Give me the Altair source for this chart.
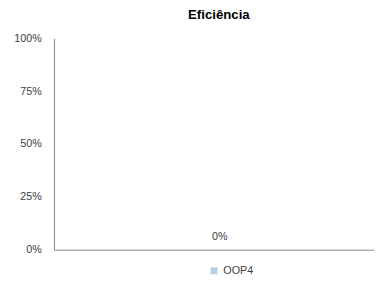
import altair as alt
import pandas as pd

categories = ["Eficiência"]
series = ["OOP4"]
values = [0.0]
y_ticks = [0, 0.25, 0.5, 0.75, 1.0]

df = pd.DataFrame({"cat": categories, "serie": series, "valor": values})

FONT = "Liberation Sans"

base = alt.Chart(df).encode(
    x=alt.X("cat:N", title=None,
            axis=alt.Axis(labels=False, ticks=False, domainColor="#868686", domainWidth=1)),
)

bars = base.mark_bar(size=60).encode(
    y=alt.Y("valor:Q", title=None,
            scale=alt.Scale(domain=[0, 1]),
            axis=alt.Axis(values=y_ticks, format=".0%", ticks=False, grid=False,
                          domainColor="#868686", labelPadding=13,
                          labelFontSize=11, labelColor="#404040", labelFont=FONT)),
    color=alt.Color("serie:N", title=None,
                    scale=alt.Scale(domain=series, range=["#B9CDE5"]),
                    legend=alt.Legend(orient="none", legendX=158, legendY=232,
                                      symbolType="square", symbolSize=50,
                                      symbolStrokeWidth=0,
                                      labelFontSize=11, labelFont=FONT,
                                      labelColor="#404040", labelOffset=4)),
)

labels = base.mark_text(dy=-13, dx=6, fontSize=11, font=FONT, color="#404040").encode(
    y=alt.Y("valor:Q"),
    text=alt.Text("valor:Q", format=".0%"),
)

chart = (bars + labels).properties(
    width=327,
    height=216,
    autosize=alt.AutoSizeParams(type="none"),
    padding={"left": 47, "top": 28, "right": 0, "bottom": 30},
    title=alt.TitleParams("Eficiência", fontSize=13.5, font=FONT, fontWeight="bold",
                          color="#000000", offset=11, dx=5, anchor="middle"),
).configure_view(stroke=None)

chart.save("out.html", embed_options={"renderer": "svg", "actions": False})
